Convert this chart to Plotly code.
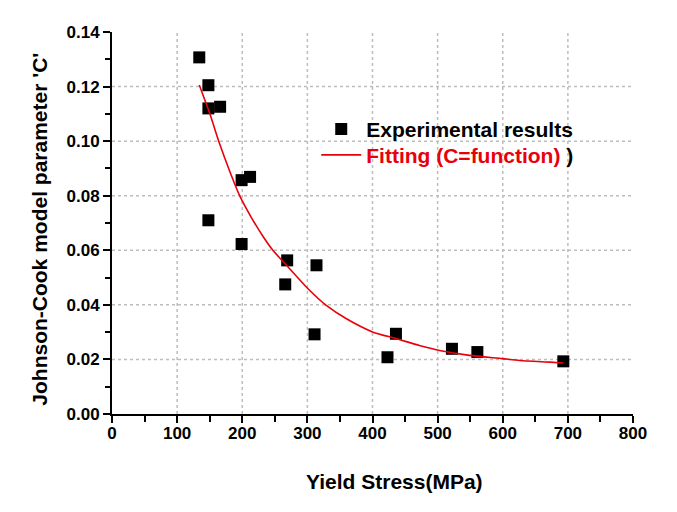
import plotly.graph_objects as go

# Experimental data
exp_stress = [134, 148, 148, 166, 199, 212, 148, 199, 269, 266, 314, 311, 423, 436, 522, 561, 693]
exp_c = [0.1307, 0.1205, 0.1120, 0.1126, 0.0857, 0.0869, 0.0710, 0.0623, 0.0563, 0.0475,
         0.0545, 0.0292, 0.0208, 0.0294, 0.0239, 0.0227, 0.0193]

# Fitted curve
fit_stress = [134, 150, 165, 180, 196, 214, 234, 247, 268, 301, 329, 360, 401, 437, 472,
              503, 549, 599, 626, 672, 693]
fit_c = [0.1206, 0.1102, 0.0992, 0.0894, 0.0800, 0.0720, 0.0643, 0.0600, 0.0545, 0.0459,
         0.0398, 0.0349, 0.0300, 0.0276, 0.0251, 0.0233, 0.0215, 0.0203, 0.0196, 0.0190, 0.0187]

x_grid = [100, 200, 300, 400, 500, 600, 700]
y_grid = [0.02, 0.04, 0.06, 0.08, 0.10, 0.12]

FONT = "Liberation Sans, Arial, sans-serif"
LEG_FONT = dict(family=FONT, size=21, color="black", weight="bold")

fig = go.Figure()
fig.add_trace(go.Scatter(
    x=exp_stress, y=exp_c, mode="markers", name="Experimental results",
    marker=dict(symbol="square", size=12, color="black", line=dict(width=0)),
    legend="legend",
))
fig.add_trace(go.Scatter(
    x=fit_stress, y=fit_c, mode="lines",
    name="<span style='color:#e8000b'>Fitting (C=function)</span> )",
    line=dict(color="#e8000b", width=1.6, shape="spline", smoothing=0.6),
    legend="legend2",
))

shapes = []
for gx in x_grid:
    shapes.append(dict(type="line", xref="x", yref="y", x0=gx, x1=gx, y0=0, y1=0.14,
                       line=dict(color="#bdbdbd", width=1.5, dash="dot"), layer="below"))
for gy in y_grid:
    shapes.append(dict(type="line", xref="x", yref="y", x0=0, x1=800, y0=gy, y1=gy,
                       line=dict(color="#bdbdbd", width=1.5, dash="dot"), layer="below"))
# white legend background area (hides grid behind the legend block)
shapes.append(dict(type="rect", xref="paper", yref="paper", x0=0.316, x1=0.969,
                   y0=0.626, y1=0.801, fillcolor="white", line=dict(width=0), layer="below"))

fig.update_layout(
    width=669, height=504,
    margin=dict(l=104, r=44, t=24, b=98),
    paper_bgcolor="white", plot_bgcolor="white",
    font=dict(family=FONT, size=17, color="black", weight="bold"),
    shapes=shapes,
    showlegend=True,
    legend=dict(x=0.392, y=0.799, xanchor="left", yanchor="top",
                bgcolor="rgba(0,0,0,0)", borderwidth=0, font=LEG_FONT, itemwidth=40),
    legend2=dict(x=0.392, y=0.731, xanchor="left", yanchor="top",
                 bgcolor="rgba(0,0,0,0)", borderwidth=0, font=LEG_FONT, itemwidth=40),
    annotations=[
        dict(text="Yield Stress(MPa)", xref="paper", yref="paper", x=0.542, y=-0.177,
             showarrow=False, xanchor="center", yanchor="middle",
             font=dict(family=FONT, size=21, color="black", weight="bold")),
        dict(text="Johnson-Cook model parameter 'C'", xref="paper", yref="paper",
             x=-0.139, y=0.484, textangle=-90, showarrow=False,
             xanchor="center", yanchor="middle",
             font=dict(family=FONT, size=21, color="black", weight="bold")),
    ],
)
fig.update_xaxes(range=[0, 800], dtick=100, tick0=0, showgrid=False, zeroline=False,
                 showline=True, linecolor="black", linewidth=2,
                 ticks="outside", ticklen=7, tickwidth=2, tickcolor="black",
                 ticklabelstandoff=-4,
                 minor=dict(dtick=50, ticks="outside", ticklen=6, tickwidth=2, tickcolor="black"),
                 tickfont=dict(family=FONT, size=17, weight="bold"))
fig.update_yaxes(range=[0, 0.14], dtick=0.02, tick0=0, tickformat=".2f", showgrid=False,
                 zeroline=False, showline=True, linecolor="black", linewidth=2,
                 ticks="outside", ticklen=7, tickwidth=2, tickcolor="black",
                 minor=dict(dtick=0.01, ticks="outside", ticklen=5, tickwidth=2, tickcolor="black"),
                 tickfont=dict(family=FONT, size=17, weight="bold"))

fig.write_html("out.html")
